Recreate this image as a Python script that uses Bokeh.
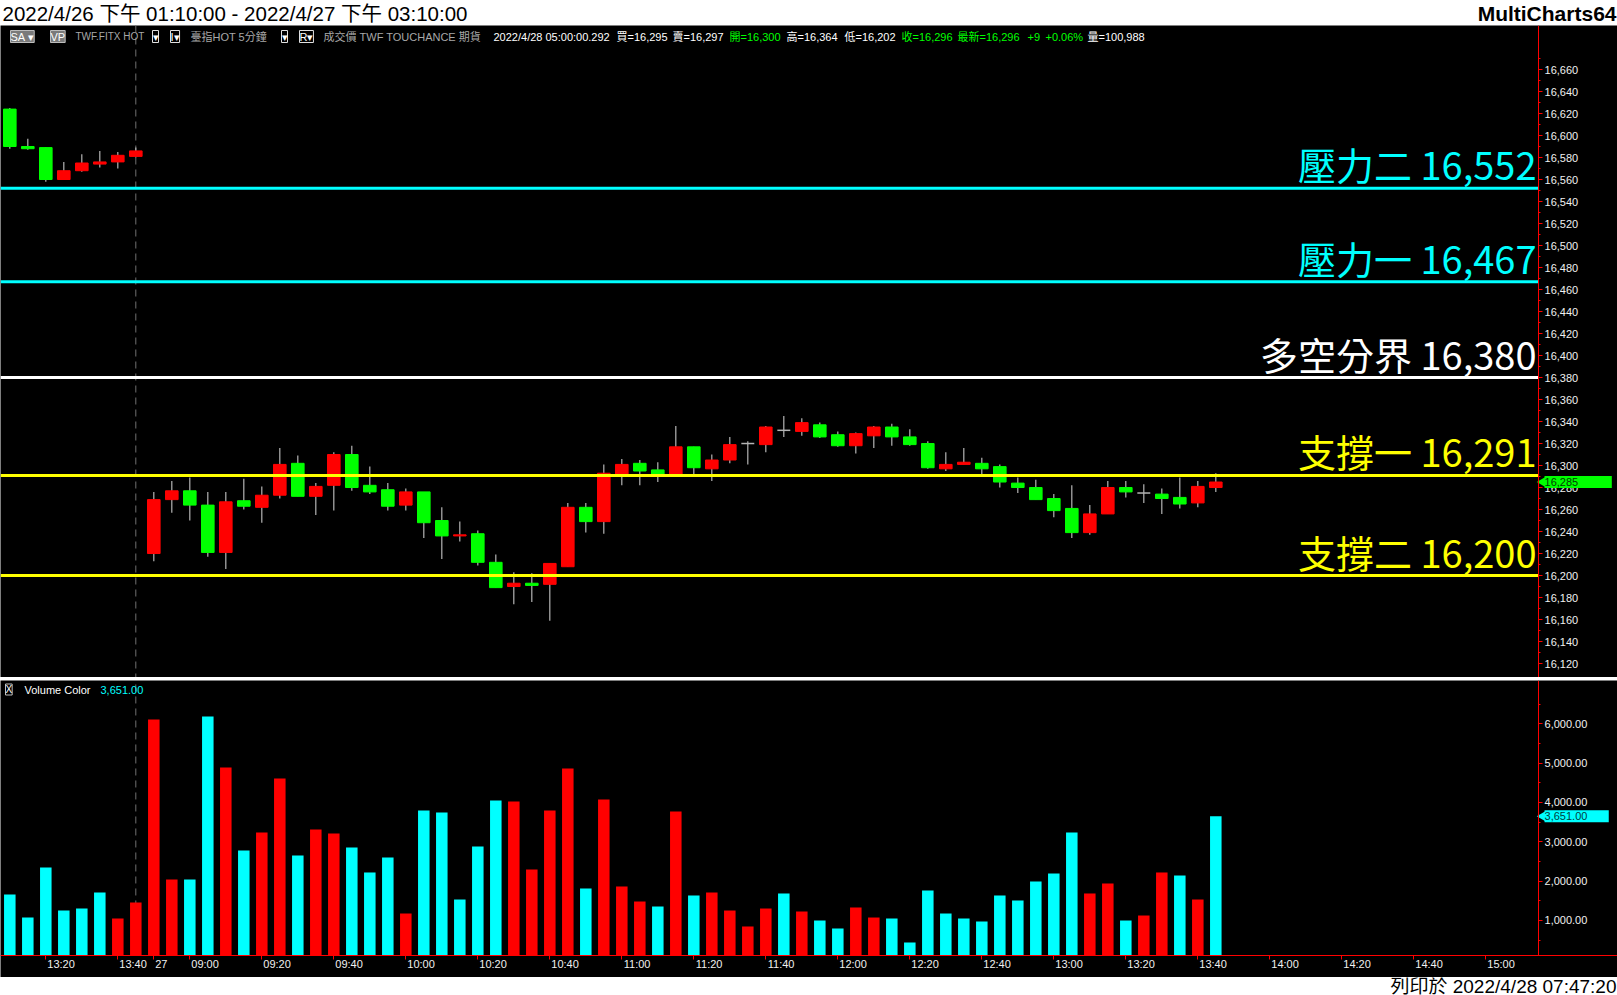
import math
from bokeh.plotting import figure
from bokeh.layouts import column
from bokeh.models import (Label, Span, LinearAxis, FixedTicker, NumeralTickFormatter,
                          CustomJSTickFormatter, Range1d)
from bokeh.core.properties import value
from bokeh.embed import file_html
from bokeh.resources import INLINE

# ---------------- data ----------------
title_text = "2022/4/26 下午 01:10:00 - 2022/4/27 下午 03:10:00"
brand_text = "MultiCharts64"
footer_text = "列印於 2022/4/28 07:47:20"

# 5-minute bars: 8 bars of 4/26 (13:10-13:45) then 60 bars of 4/27 (08:50-13:45)
opens = [16624, 16590, 16589, 16560, 16568, 16574, 16576, 16581,
         16220, 16269, 16277, 16264, 16221, 16268, 16262, 16273, 16302, 16272,
         16282, 16310, 16282, 16278, 16264, 16276, 16250, 16236, 16238, 16212,
         16190, 16193, 16192, 16208, 16262, 16249, 16292, 16302, 16296, 16292,
         16317, 16297, 16305, 16320, 16319, 16332, 16331, 16337, 16328, 16318,
         16327, 16335, 16326, 16320, 16297, 16301, 16302, 16299, 16284, 16280,
         16270, 16261, 16239, 16256, 16280, 16275, 16274, 16271, 16266, 16280]
highs = [16625, 16597, 16589, 16576, 16583, 16586, 16585, 16589,
         16276, 16286, 16289, 16276, 16276, 16288, 16281, 16316, 16309, 16284,
         16312, 16318, 16299, 16284, 16279, 16276, 16262, 16249, 16241, 16219,
         16203, 16202, 16211, 16266, 16266, 16301, 16306, 16305, 16303, 16336,
         16317, 16310, 16326, 16322, 16336, 16345, 16343, 16339, 16331, 16330,
         16336, 16338, 16333, 16322, 16312, 16316, 16307, 16301, 16289, 16287,
         16274, 16282, 16264, 16286, 16286, 16283, 16279, 16289, 16286, 16293]
lows = [16588, 16587, 16558, 16560, 16567, 16571, 16570, 16580,
        16213, 16257, 16250, 16217, 16206, 16260, 16248, 16270, 16272, 16255,
        16259, 16277, 16274, 16259, 16259, 16234, 16215, 16231, 16209, 16189,
        16174, 16176, 16159, 16208, 16239, 16238, 16282, 16282, 16285, 16291,
        16291, 16286, 16302, 16301, 16312, 16326, 16327, 16325, 16317, 16311,
        16316, 16318, 16318, 16297, 16295, 16301, 16292, 16280, 16275, 16269,
        16253, 16234, 16237, 16256, 16271, 16266, 16256, 16261, 16262, 16276]
closes = [16590, 16588, 16560, 16568, 16575, 16576, 16582, 16586,
          16269, 16277, 16264, 16221, 16267, 16263, 16273, 16301, 16272, 16281,
          16310, 16280, 16276, 16263, 16276, 16248, 16236, 16237, 16212, 16189,
          16193, 16191, 16211, 16262, 16249, 16293, 16301, 16295, 16291, 16317,
          16298, 16305, 16319, 16320, 16335, 16332, 16339, 16326, 16318, 16329,
          16335, 16326, 16319, 16298, 16301, 16303, 16297, 16285, 16280, 16269,
          16259, 16239, 16256, 16280, 16276, 16275, 16270, 16265, 16281, 16285]
volumes = [1660, 1075, 2347, 1253, 1304, 1711, 1050, 1457,
           6110, 2042, 2042, 6186, 4889, 2779, 3237, 4610, 2652, 3313,
           3211, 2855, 2220, 2601, 1177, 3796, 3745, 1533, 2881, 4050,
           4025, 2296, 3796, 4864, 1813, 4076, 1864, 1482, 1355, 3771,
           1635, 1711, 1253, 847, 1304, 1686, 1228, 999, 796, 1330,
           1075, 1050, 440, 1762, 1177, 1050, 974, 1635, 1508, 1991,
           2194, 3237, 1686, 1940, 999, 1126, 2220, 2143, 1533, 3651]
vol_colors = ["c", "c", "c", "c", "c", "c", "r", "r",
              "r", "r", "c", "c", "r", "c", "r", "r", "c", "r",
              "r", "c", "c", "c", "r", "c", "c", "c", "c", "c",
              "r", "r", "r", "r", "c", "r", "r", "r", "c", "r",
              "c", "r", "r", "r", "r", "c", "r", "c", "c", "r",
              "r", "c", "c", "c", "c", "c", "c", "c", "c", "c",
              "c", "c", "r", "r", "c", "r", "r", "c", "r", "c"]
session_break_bar = 7

level_values = [16552, 16467, 16380, 16291, 16200]
level_names = ["壓力二", "壓力一", "多空分界", "支撐一", "支撐二"]
level_colors = ["#00ffff", "#00ffff", "#ffffff", "#ffff00", "#ffff00"]

tick_bars = [2, 6, 8, 10, 14, 18, 22, 26, 30, 34, 38, 42, 46, 50, 54, 58, 62, 66, 70, 74, 78, 82]
tick_labels = ["13:20", "13:40", "27", "09:00", "09:20", "09:40", "10:00", "10:20", "10:40",
               "11:00", "11:20", "11:40", "12:00", "12:20", "12:40", "13:00", "13:20", "13:40",
               "14:00", "14:20", "14:40", "15:00"]
price_ticks = list(range(16120, 16680, 20))
volume_ticks = [1000, 2000, 3000, 4000, 5000, 6000]

last_price = 16285
last_volume = 3651

# ---------------- layout constants ----------------
W = 1617
FONT = "Liberation Sans"
CJK = "Noto Sans CJK TC"
MIX = "Liberation Sans, Noto Sans CJK TC"
RED = "#ff0000"
GREEN = "#00ff00"
CYAN = "#00ffff"
WICK = "#b4b4b4"
NBSP = "\u00a0"

X0 = -0.517
x_range = Range1d(X0, X0 + W / 18.0)   # 18 px per 5-minute bar
AXIS_X = 84.93                          # where the chart's value axes sit
n = len(opens)
idx = list(range(n))


def base_fig(height, bg, yr=None, xr=None):
    f = figure(width=W, height=height, x_range=xr if xr is not None else Range1d(0, W),
               y_range=yr if yr is not None else Range1d(0, height),
               output_backend="svg", toolbar_location=None,
               x_axis_location=None, y_axis_location=None,
               background_fill_color=bg, border_fill_color=bg, outline_line_color=None)
    f.min_border_left = 0
    f.min_border_top = 0
    f.min_border_bottom = 0
    f.min_border_right = 0
    f.grid.grid_line_color = None
    return f


def value_axis(ticks, minor, fmt, bounds):
    ax = LinearAxis(fixed_location=AXIS_X, bounds=bounds,
                    ticker=FixedTicker(ticks=ticks, minor_ticks=minor),
                    formatter=NumeralTickFormatter(format=fmt))
    ax.axis_line_color = RED
    ax.axis_line_width = 1
    ax.major_tick_line_color = RED
    ax.minor_tick_line_color = RED
    ax.major_tick_out = 4
    ax.major_tick_in = 0
    ax.minor_tick_out = 2
    ax.minor_tick_in = 0
    ax.major_label_text_color = "#f0f0f0"
    ax.major_label_text_font = FONT
    ax.major_label_text_font_size = "11px"
    ax.major_label_standoff = 2
    return ax


# ---------------- title band ----------------
ft = base_fig(25, "white")
ft.text(x=[2], y=[12.5], text=[title_text], text_font=value(MIX), text_font_size="20.5px",
        text_baseline="middle", text_align="left", text_color="black")
ft.text(x=[W - 1], y=[12.5], text=[brand_text], text_font=value(FONT), text_font_size="21px",
        text_font_style="bold", text_baseline="middle", text_align="right", text_color="black")

# ---------------- price panel ----------------
MAIN_H = 652
P_LO, P_HI = 16107.3, 16700
fp = base_fig(MAIN_H, "black", yr=Range1d(P_LO, P_HI), xr=x_range)
fp.add_layout(value_axis(price_ticks, [t + 10 for t in price_ticks], "0,0", (P_LO, P_HI)), "right")

fp.add_layout(Span(location=session_break_bar, dimension="height", line_color="#707070",
                   line_dash="7 5", line_width=1, level="underlay"))

up = [i for i in idx if closes[i] > opens[i]]
dn = [i for i in idx if closes[i] < opens[i]]
dj = [i for i in idx if closes[i] == opens[i]]

fp.segment(x0=idx, y0=lows, x1=idx, y1=highs, line_color=WICK, line_width=1.2)
fp.vbar(x=up, width=0.7, bottom=[opens[i] for i in up], top=[closes[i] for i in up],
        fill_color=RED, line_color=RED, line_width=1)
fp.vbar(x=dn, width=0.7, bottom=[closes[i] for i in dn], top=[opens[i] for i in dn],
        fill_color=GREEN, line_color=GREEN, line_width=1)
fp.segment(x0=[i - 0.36 for i in dj], y0=[opens[i] for i in dj],
           x1=[i + 0.36 for i in dj], y1=[closes[i] for i in dj],
           line_color=WICK, line_width=1.5)

# support / resistance levels
fp.segment(x0=[x_range.start] * len(level_values), y0=level_values,
           x1=[AXIS_X] * len(level_values), y1=level_values,
           line_color=level_colors, line_width=3)
fp.text(x=[AXIS_X] * len(level_values), y=level_values,
        text=[f"{nm} {v:,}" for nm, v in zip(level_names, level_values)],
        text_color=level_colors, text_align="right", text_baseline="bottom",
        text_font=value(CJK), text_font_size="38px", x_offset=-2, y_offset=3)

# header row of the chart window
HY = MAIN_H - 11
hdr_boxes = [("SA ▾", 10, "#7a7a7a"), ("VP", 50, "#7a7a7a")]
for t, x, bg in hdr_boxes:
    fp.add_layout(Label(x=x, y=HY, x_units="screen", y_units="screen", text=t,
                        text_font=FONT, text_font_size="11px", text_color="white",
                        text_baseline="middle", background_fill_color=bg,
                        border_line_color="#bdbdbd"))
hdr_btns = [("▾", 152), ("I▾", 170), ("▾", 281), ("R▾", 299)]
for t, x in hdr_btns:
    fp.add_layout(Label(x=x, y=HY, x_units="screen", y_units="screen", text=t,
                        text_font=FONT, text_font_size="11px", text_color="white",
                        text_baseline="middle", border_line_color="#e0e0e0"))
GRAY = "#a8a8a8"
WHITE = "#ffffff"
HGREEN = "#00ff00"
hdr_items = [("TWF.FITX HOT", 75, GRAY, "10px"), ("臺指HOT  5分鐘", 190, GRAY, "11px"),
             ("成交價  TWF  TOUCHANCE  期貨", 323, GRAY, "11px"),
             ("2022/4/28  05:00:00.292", 493, WHITE, "11px"), ("買=16,295", 616, WHITE, "11px"),
             ("賣=16,297", 672, WHITE, "11px"), ("開=16,300", 729, HGREEN, "11px"),
             ("高=16,364", 786, WHITE, "11px"), ("低=16,202", 844, WHITE, "11px"),
             ("收=16,296", 901, HGREEN, "11px"), ("最新=16,296", 957, HGREEN, "11px"),
             ("+9", 1027, HGREEN, "11px"), ("+0.06%", 1045, HGREEN, "11px"),
             ("量=100,988", 1087, WHITE, "11px")]
for t, x, c, fs_ in hdr_items:
    fp.add_layout(Label(x=x, y=HY, x_units="screen", y_units="screen", text=t,
                        text_font=MIX, text_font_size=fs_, text_color=c,
                        text_baseline="middle"))

# last price tag on the price axis
fp.scatter(x=[AXIS_X + 0.22], y=[last_price], marker="triangle", size=10, angle=math.pi / 2,
           fill_color=GREEN, line_color=None)
fp.add_layout(Label(x=AXIS_X, y=last_price, x_offset=6, text=f"{last_price:,}" + NBSP * 11,
                    text_font=FONT, text_font_size="11px", text_color="#004000",
                    text_baseline="middle", background_fill_color=GREEN))

# separator
fs = base_fig(3, "#d0d0d0")

# ---------------- volume panel ----------------
VOL_FLOOR = 110          # value at the bottom edge of the bar area
V_LO, V_HI = -450, 7101  # lower part of the frame holds the time labels
VOL_H = 297
fv = base_fig(VOL_H, "black", yr=Range1d(V_LO, V_HI), xr=x_range)
fv.add_layout(value_axis(volume_ticks, [t + 500 for t in [0] + volume_ticks], "0,0.00",
                         (VOL_FLOOR, V_HI)), "right")

fv.segment(x0=[session_break_bar], y0=[VOL_FLOOR], x1=[session_break_bar], y1=[V_HI],
           line_color="#707070", line_dash="7 5", line_width=1, level="underlay")
cmap = {"c": CYAN, "r": RED}
fv.vbar(x=idx, width=0.64, bottom=VOL_FLOOR, top=volumes,
        fill_color=[cmap[c] for c in vol_colors], line_color=None)

ax1 = LinearAxis(fixed_location=VOL_FLOOR, ticker=FixedTicker(ticks=tick_bars),
                 formatter=CustomJSTickFormatter(code="return ''"))
ax1.axis_line_color = RED
ax1.major_tick_line_color = RED
ax1.minor_tick_line_color = None
ax1.major_tick_out = 4
ax1.major_tick_in = 0
ax1.major_label_text_font_size = "1px"
ax1.major_label_standoff = 0
fv.add_layout(ax1, "below")

label_pos = [b + (0.42 if len(t) < 3 else 0.85) for b, t in zip(tick_bars, tick_labels)]
ax2 = LinearAxis(fixed_location=VOL_FLOOR, ticker=FixedTicker(ticks=label_pos),
                 formatter=CustomJSTickFormatter(args=dict(labels=tick_labels),
                                                 code="return labels[index]"))
ax2.axis_line_color = None
ax2.major_tick_line_color = None
ax2.minor_tick_line_color = None
ax2.major_tick_out = 0
ax2.major_tick_in = 0
ax2.major_label_standoff = 3
ax2.major_label_text_color = "#f0f0f0"
ax2.major_label_text_font = FONT
ax2.major_label_text_font_size = "11px"
fv.add_layout(ax2, "below")

# legend of the volume study
fv.add_layout(Label(x=5, y=V_HI, x_units="screen", y_offset=-9, text="X", text_font=FONT,
                    text_font_size="10px", text_color="white", text_baseline="middle",
                    border_line_color="#c0c0c0"))
fv.add_layout(Label(x=24, y=V_HI, x_units="screen", y_offset=-9, text="Volume Color",
                    text_font=FONT, text_font_size="11px", text_color="white",
                    text_baseline="middle"))
fv.add_layout(Label(x=100, y=V_HI, x_units="screen", y_offset=-9, text=f"{last_volume:,.2f}",
                    text_font=FONT, text_font_size="11px", text_color=CYAN,
                    text_baseline="middle"))
fv.scatter(x=[AXIS_X + 0.22], y=[last_volume], marker="triangle", size=10, angle=math.pi / 2,
           fill_color=CYAN, line_color=None)
fv.add_layout(Label(x=AXIS_X, y=last_volume, x_offset=6,
                    text=f"{last_volume:,.2f}" + NBSP * 7,
                    text_font=FONT, text_font_size="11px", text_color="#004040",
                    text_baseline="middle", background_fill_color=CYAN))

# ---------------- footer ----------------
ff = base_fig(18, "white")
ff.text(x=[W - 1], y=[9], text=[footer_text], text_font=value(MIX), text_font_size="19px",
        text_baseline="middle", text_align="right", text_color="black")

layout = column(ft, fp, fs, fv, ff, spacing=0)
open("out.html", "w").write(file_html(layout, INLINE))
